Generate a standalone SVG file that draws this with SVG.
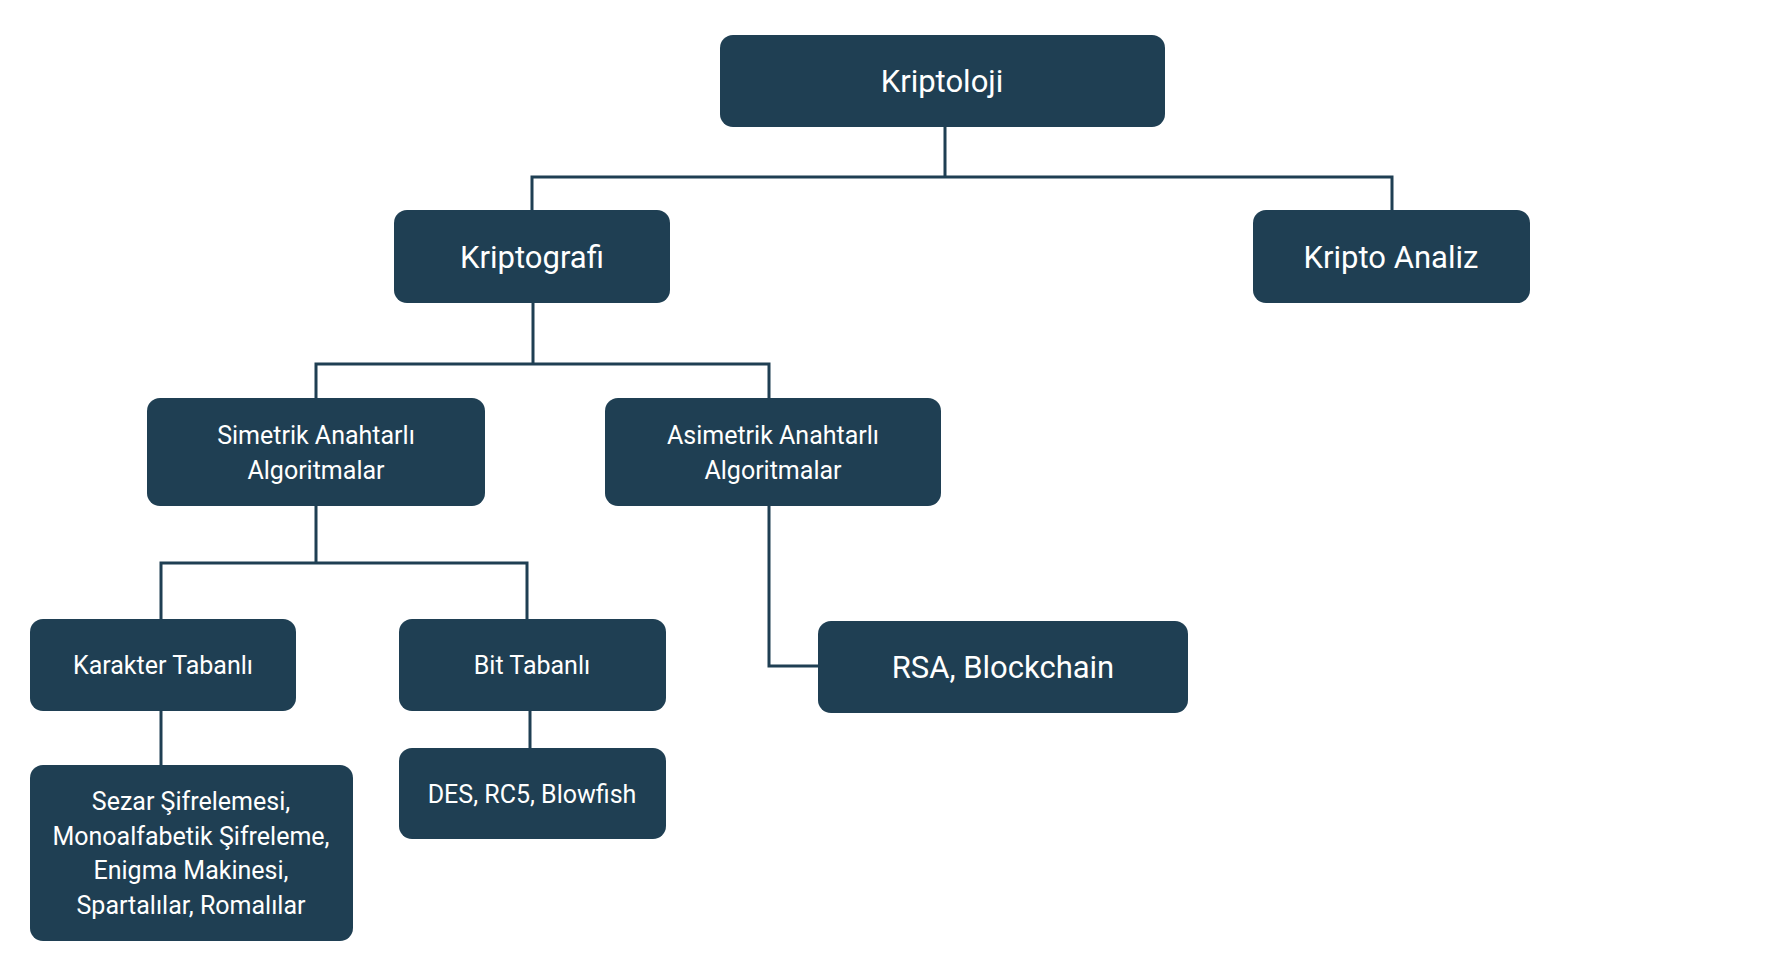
<svg xmlns="http://www.w3.org/2000/svg" width="1774" height="980" viewBox="0 0 1774 980">
<style>
.box{fill:#1f3f53;}
.t{fill:#ffffff;font-family:Roboto,"Liberation Sans",sans-serif;text-anchor:middle;}
.big{font-size:31px;}
.sm{font-size:25px;}
.c{fill:none;stroke:#1f3f53;stroke-width:3;}
</style>
<rect width="1774" height="980" fill="#ffffff"/>
<g id="connectors">
<path class="c" d="M945 127 V177 M532 210 V177 H1392 V210"/>
<path class="c" d="M533 303 V364 M316 398 V364 H769 V398"/>
<path class="c" d="M316 506 V563 M161 619 V563 H527 V619"/>
<path class="c" d="M769 506 V666 H818"/>
<path class="c" d="M161 711 V765"/>
<path class="c" d="M530 711 V748"/>
</g>
<g id="kriptoloji">
<rect class="box" x="720" y="35" width="445" height="92" rx="13"/>
<text class="t big" x="942" y="92">Kriptoloji</text>
</g>
<g id="kriptografi">
<rect class="box" x="394" y="210" width="276" height="93" rx="13"/>
<text class="t big" x="532" y="267.5">Kriptografi</text>
</g>
<g id="kripto-analiz">
<rect class="box" x="1253" y="210" width="277" height="93" rx="13"/>
<text class="t big" x="1391" y="267.5">Kripto Analiz</text>
</g>
<g id="simetrik">
<rect class="box" x="147" y="398" width="338" height="108" rx="13"/>
<text class="t sm" x="316" y="444">Simetrik Anahtarlı</text>
<text class="t sm" x="316" y="479">Algoritmalar</text>
</g>
<g id="asimetrik">
<rect class="box" x="605" y="398" width="336" height="108" rx="13"/>
<text class="t sm" x="773" y="444">Asimetrik Anahtarlı</text>
<text class="t sm" x="773" y="479">Algoritmalar</text>
</g>
<g id="karakter">
<rect class="box" x="30" y="619" width="266" height="92" rx="13"/>
<text class="t sm" x="163" y="674">Karakter Tabanlı</text>
</g>
<g id="bit">
<rect class="box" x="399" y="619" width="267" height="92" rx="13"/>
<text class="t sm" x="532" y="674">Bit Tabanlı</text>
</g>
<g id="rsa">
<rect class="box" x="818" y="621" width="370" height="92" rx="13"/>
<text class="t big" x="1003" y="678">RSA, Blockchain</text>
</g>
<g id="sezar">
<rect class="box" x="30" y="765" width="323" height="176" rx="13"/>
<text class="t sm" x="191" y="810">Sezar Şifrelemesi,</text>
<text class="t sm" x="191" y="845">Monoalfabetik Şifreleme,</text>
<text class="t sm" x="191" y="879">Enigma Makinesi,</text>
<text class="t sm" x="191" y="914">Spartalılar, Romalılar</text>
</g>
<g id="des">
<rect class="box" x="399" y="748" width="267" height="91" rx="13"/>
<text class="t sm" x="532" y="802.5">DES, RC5, Blowfish</text>
</g>
</svg>
